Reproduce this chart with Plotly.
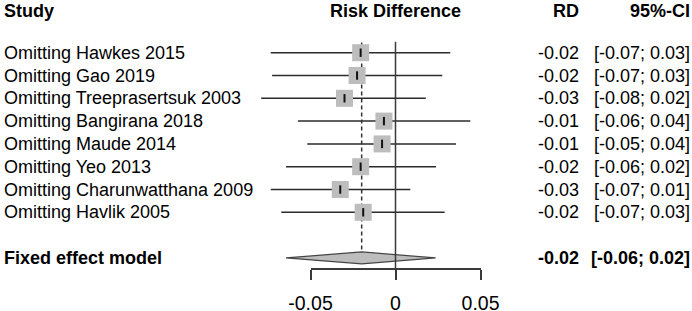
import plotly.graph_objects as go

studies = ["Omitting Hawkes 2015", "Omitting Gao 2019", "Omitting Treeprasertsuk 2003",
           "Omitting Bangirana 2018", "Omitting Maude 2014", "Omitting Yeo 2013",
           "Omitting Charunwatthana 2009", "Omitting Havlik 2005"]
rd = [-0.0205, -0.0226, -0.0300, -0.0068, -0.0079, -0.0205, -0.0325, -0.0190]
lower = [-0.0734, -0.0726, -0.0790, -0.0574, -0.0519, -0.0644, -0.0734, -0.0672]
upper = [0.0322, 0.0275, 0.0178, 0.0440, 0.0356, 0.0238, 0.0087, 0.0289]
rd_text = ["-0.02", "-0.02", "-0.03", "-0.01", "-0.01", "-0.02", "-0.03", "-0.02"]
ci_text = ["[-0.07; 0.03]", "[-0.07; 0.03]", "[-0.08; 0.02]", "[-0.06; 0.04]",
           "[-0.05; 0.04]", "[-0.06; 0.02]", "[-0.07; 0.01]", "[-0.07; 0.03]"]

fixed_label = "Fixed effect model"
fixed_est = -0.0199
fixed_lower = -0.0644
fixed_upper = 0.0236
fixed_rd_text = "-0.02"
fixed_ci_text = "[-0.06; 0.02]"

tick_vals = [-0.05, 0, 0.05]
tick_text = ["-0.05", "0", "0.05"]

W, H = 692, 311
FONT = "Liberation Sans, Arial, sans-serif"
FS = 18
rows = list(range(len(studies)))
fixed_row = len(studies) + 1
header_row = -1.84

# pixel geometry
zero_px = 395.5
px_per_unit = 1700.0
row0_px = 52.7
row_px = 22.8
axis_px = 268

x_range = [-zero_px / px_per_unit, (W - zero_px) / px_per_unit]
y_range = [(H - row0_px) / row_px, -row0_px / row_px]
axis_row = (axis_px - row0_px) / row_px

fig = go.Figure()

# CI lines
cx, cy = [], []
for lo, hi, r in zip(lower, upper, rows):
    cx += [lo, hi, None]
    cy += [r, r, None]
fig.add_trace(go.Scatter(x=cx, y=cy, mode="lines", line=dict(color="#2b2b2b", width=1.5),
                         hoverinfo="skip", showlegend=False))

# zero line (on the x2/y2 subplot that carries the tick axis)
fig.add_trace(go.Scatter(x=[0, 0], y=[-0.48, axis_row], mode="lines", xaxis="x2", yaxis="y2",
                         line=dict(color="#3a3a3a", width=1.5), hoverinfo="skip",
                         showlegend=False, cliponaxis=False))

# dashed pooled line
fig.add_trace(go.Scatter(x=[fixed_est, fixed_est], y=[-0.45, fixed_row - 0.3], mode="lines",
                         line=dict(color="#333333", width=1.5, dash="4px,3px"),
                         hoverinfo="skip", showlegend=False))

# squares
fig.add_trace(go.Scatter(x=rd, y=rows, mode="markers",
                         marker=dict(symbol="square", size=17, color="#bdbdbd",
                                     line=dict(width=0)),
                         hoverinfo="skip", showlegend=False))
# center ticks
fig.add_trace(go.Scatter(x=rd, y=rows, mode="markers",
                         marker=dict(symbol="line-ns", size=6,
                                     line=dict(width=2, color="#111111")),
                         hoverinfo="skip", showlegend=False))

# diamond
dh = 0.26
fig.add_trace(go.Scatter(x=[fixed_lower, fixed_est, fixed_upper, fixed_est, fixed_lower],
                         y=[fixed_row, fixed_row - dh, fixed_row, fixed_row + dh, fixed_row],
                         mode="lines", fill="toself", fillcolor="#bdbdbd",
                         line=dict(color="#444444", width=1.2),
                         hoverinfo="skip", showlegend=False))

# text
ann = []
def txt(x, y, s, anchor, bold=False):
    ann.append(dict(x=x / W, xref="paper", y=y, yref="y", text=f"<b>{s}</b>" if bold else s,
                    showarrow=False, xanchor=anchor, yanchor="middle",
                    font=dict(family=FONT, size=FS, color="black"), borderpad=0))

txt(3, header_row, "Study", "left", True)
txt(zero_px, header_row, "Risk Difference", "center", True)
txt(580, header_row, "RD", "right", True)
txt(691, header_row, "95%-CI", "right", True)
for s, a, b, r in zip(studies, rd_text, ci_text, rows):
    txt(3, r, s, "left")
    txt(580, r, a, "right")
    txt(691, r, b, "right")
txt(3, fixed_row, fixed_label, "left", True)
txt(580, fixed_row, fixed_rd_text, "right", True)
txt(691, fixed_row, fixed_ci_text, "right", True)

d0 = (zero_px - 0.05 * px_per_unit) / W
d1 = (zero_px + 0.05 * px_per_unit) / W

fig.update_layout(
    template="none",
    width=W, height=H, margin=dict(l=0, r=0, t=0, b=0, pad=0, autoexpand=False),
    paper_bgcolor="white", plot_bgcolor="rgba(0,0,0,0)",
    annotations=ann,
    xaxis=dict(range=x_range, visible=False, domain=[0, 1], automargin=False),
    yaxis=dict(range=y_range, visible=False, domain=[0, 1], automargin=False),
    xaxis2=dict(domain=[d0, d1], anchor="y2", range=[-0.05, 0.05],
                tickvals=tick_vals, ticktext=tick_text, ticks="outside", ticklen=10,
                tickwidth=1.5, tickcolor="#3a3a3a", showline=True, linecolor="#3a3a3a",
                linewidth=1.5, showgrid=False, zeroline=False, side="bottom", automargin=False,
                tickfont=dict(family=FONT, size=19.5, color="black"), ticklabelstandoff=7),
    yaxis2=dict(domain=[1 - axis_px / H, 1], anchor="x2", range=[axis_row, -row0_px / row_px],
                visible=False, automargin=False),
    font=dict(family=FONT),
)

fig.write_html("out.html", config={"displayModeBar": False},
               post_script="document.body.style.margin='0';document.body.style.overflow='hidden';")
